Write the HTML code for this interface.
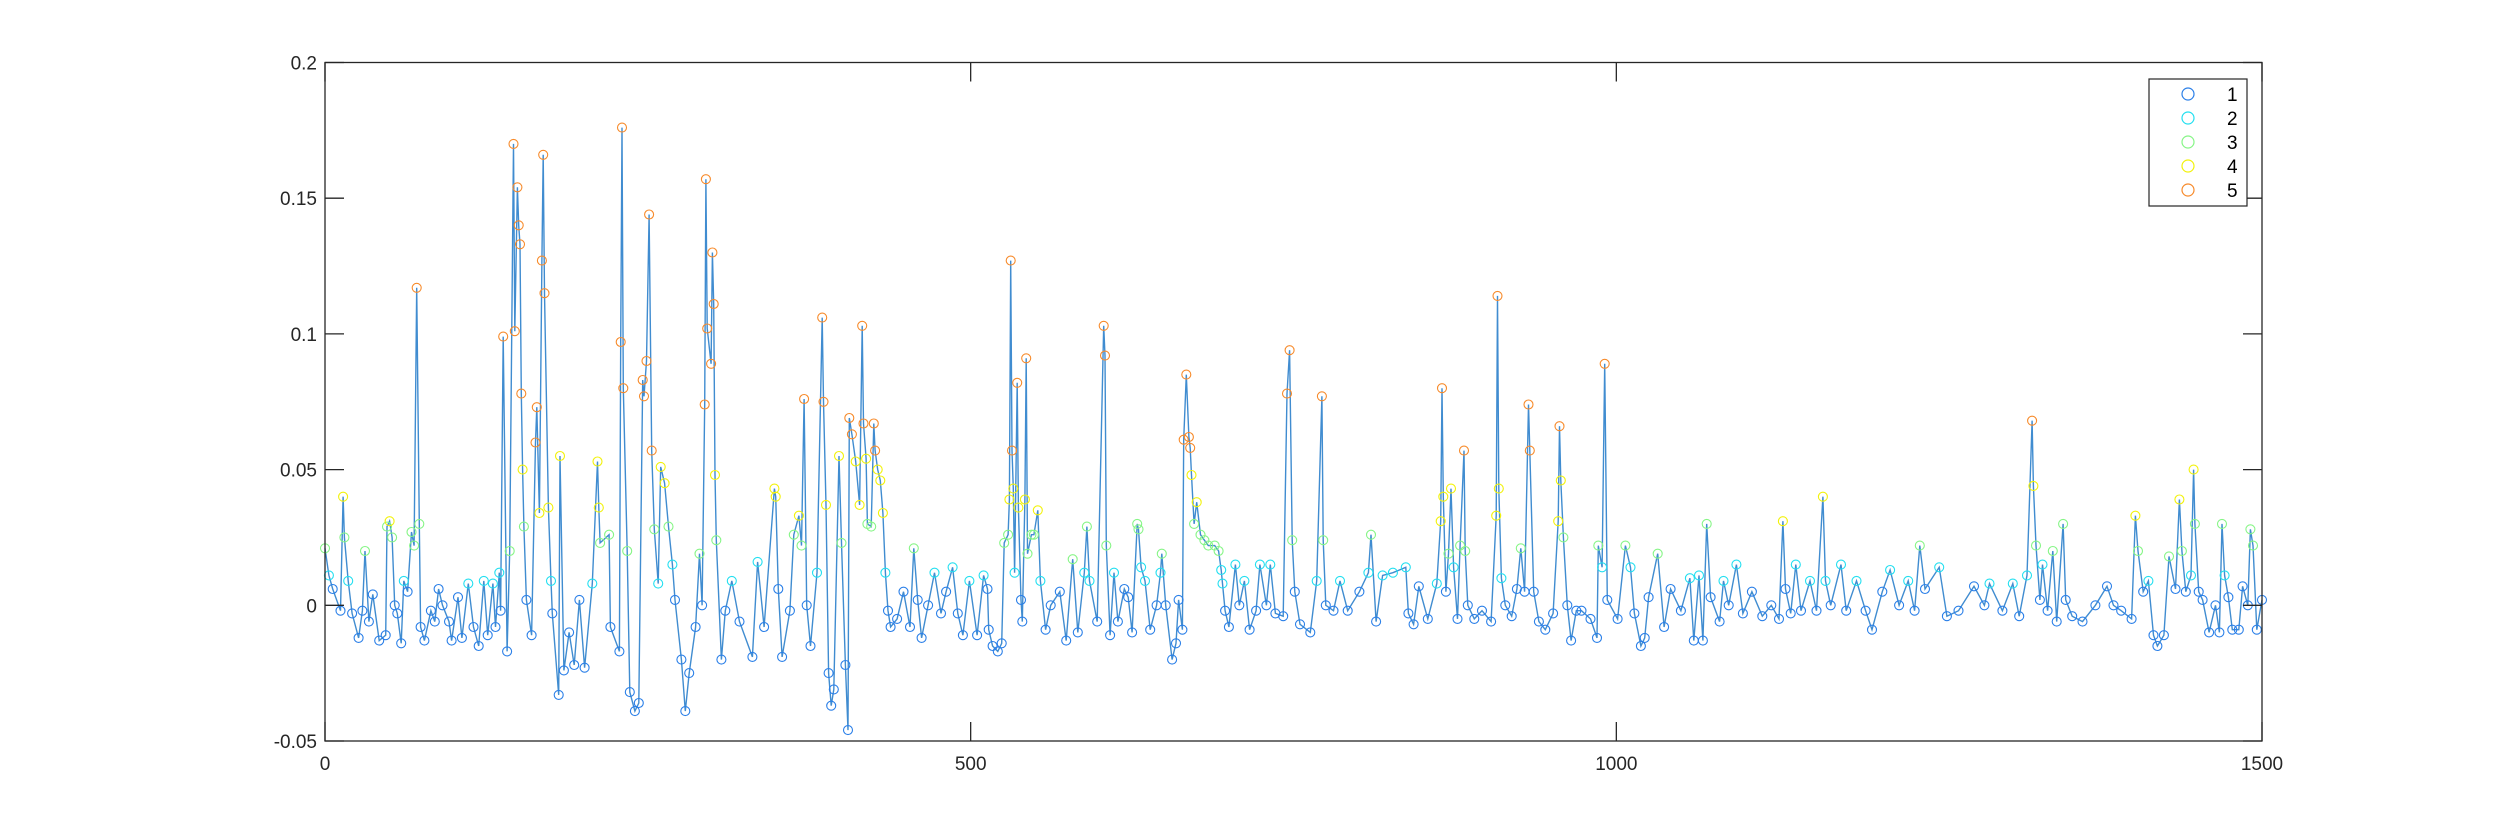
<!DOCTYPE html>
<html><head><meta charset="utf-8"><style>
html,body{margin:0;padding:0;background:#fff;}
svg{display:block;font-family:"Liberation Sans",Arial,sans-serif;}
</style></head><body>
<svg id="chart" width="2500" height="833" viewBox="0 0 2500 833" xmlns="http://www.w3.org/2000/svg">
<rect x="0" y="0" width="2500" height="833" fill="#fff"/>
<g id="plot"></g>
<g id="axes"></g>
<g id="legend"></g>
</svg>
<script>
const xTicks = [0, 500, 1000, 1500];
const yTicks = [-0.05, 0, 0.05, 0.1, 0.15, 0.2];
const yTickLabels = ["-0.05", "0", "0.05", "0.1", "0.15", "0.2"];
const seriesNames = ["1", "2", "3", "4", "5"];
// [sample index, value]
const samplesA = [[0,0.021],[3,0.011],[6,0.006],[12,-0.002],[14,0.04],[15,0.025],[18,0.009],[21,-0.003],[26,-0.012],[29,-0.002],[31,0.02],[34,-0.006],[37,0.004],[42,-0.013],[47,-0.011],[48,0.029],[50,0.031],[52,0.025],[54,0],[56,-0.003],[59,-0.014],[61,0.009],[64,0.005],[67,0.027],[69,0.022],[71,0.117],[73,0.03],[74,-0.008],[77,-0.013],[82,-0.002],[85,-0.006],[88,0.006],[91,0],[96,-0.006],[98,-0.013],[103,0.003],[106,-0.012],[111,0.008],[115,-0.008],[119,-0.015],[123,0.009],[126,-0.011],[130,0.008],[132,-0.008],[135,0.012],[136,-0.002],[138,0.099],[141,-0.017],[143,0.02],[146,0.17],[147,0.101],[149,0.154],[150,0.14],[151,0.133],[152,0.078],[153,0.05],[154,0.029],[156,0.002],[160,-0.011],[163,0.06],[164,0.073],[166,0.034],[168,0.127],[169,0.166],[170,0.115],[173,0.036],[175,0.009],[176,-0.003],[181,-0.033],[182,0.055],[185,-0.024],[189,-0.01],[193,-0.022],[197,0.002],[201,-0.023],[207,0.008],[211,0.053],[212,0.036],[213,0.023],[220,0.026],[221,-0.008],[228,-0.017],[229,0.097],[230,0.176],[231,0.08],[234,0.02],[236,-0.032],[240,-0.039],[243,-0.036],[246,0.083],[247,0.077],[249,0.09],[251,0.144],[253,0.057],[255,0.028],[258,0.008],[260,0.051],[263,0.045],[266,0.029],[269,0.015],[271,0.002],[276,-0.02],[279,-0.039],[282,-0.025],[287,-0.008],[290,0.019],[292,0],[294,0.074],[295,0.157],[296,0.102],[299,0.089],[300,0.13],[301,0.111],[302,0.048],[303,0.024],[307,-0.02],[310,-0.002],[315,0.009],[321,-0.006],[331,-0.019],[335,0.016],[340,-0.008],[348,0.043],[349,0.04],[351,0.006],[354,-0.019],[360,-0.002],[363,0.026],[367,0.033],[369,0.022],[371,0.076],[373,0],[376,-0.015],[381,0.012],[385,0.106],[386,0.075],[388,0.037],[390,-0.025],[392,-0.037],[394,-0.031],[398,0.055],[400,0.023],[403,-0.022],[405,-0.046],[406,0.069],[408,0.063],[411,0.053],[414,0.037],[416,0.103],[417,0.067],[419,0.054],[420,0.03],[423,0.029],[425,0.067],[426,0.057],[428,0.05],[430,0.046],[432,0.034],[434,0.012],[436,-0.002],[438,-0.008],[443,-0.005],[448,0.005],[453,-0.008],[456,0.021],[459,0.002],[462,-0.012],[467,0],[472,0.012],[477,-0.003],[481,0.005],[486,0.014],[490,-0.003],[494,-0.011],[499,0.009]];
const samplesB = [[505,-0.011],[510,0.011],[513,0.006],[514,-0.009],[517,-0.015],[521,-0.017],[524,-0.014],[526,0.023],[529,0.026],[530,0.039],[531,0.127],[532,0.057],[533,0.043],[534,0.012],[536,0.082],[537,0.036],[539,0.002],[540,-0.006],[542,0.039],[543,0.091],[544,0.019],[547,0.026],[549,0.026],[552,0.035],[554,0.009],[558,-0.009],[562,0],[569,0.005],[574,-0.013],[579,0.017],[583,-0.01],[588,0.012],[590,0.029],[592,0.009],[598,-0.006],[603,0.103],[604,0.092],[605,0.022],[608,-0.011],[611,0.012],[614,-0.006],[619,0.006],[622,0.003],[625,-0.01],[629,0.03],[630,0.028],[632,0.014],[635,0.009],[639,-0.009],[644,0],[647,0.012],[648,0.019],[651,0],[656,-0.02],[659,-0.014],[661,0.002],[664,-0.009],[665,0.061],[667,0.085],[669,0.062],[670,0.058],[671,0.048],[673,0.03],[675,0.038],[678,0.026],[681,0.024],[684,0.022],[689,0.022],[692,0.02],[694,0.013],[695,0.008],[697,-0.002],[700,-0.008],[705,0.015],[708,0],[712,0.009],[716,-0.009],[721,-0.002],[724,0.015],[729,0],[732,0.015],[736,-0.003],[742,-0.004],[745,0.078],[747,0.094],[749,0.024],[751,0.005],[755,-0.007],[763,-0.01],[768,0.009],[772,0.077],[773,0.024],[775,0],[781,-0.002],[786,0.009],[792,-0.002],[801,0.005],[808,0.012],[810,0.026],[814,-0.006],[819,0.011],[827,0.012],[837,0.014],[839,-0.003],[843,-0.007],[847,0.007],[854,-0.005],[861,0.008],[864,0.031],[865,0.08],[866,0.04],[868,0.005],[870,0.019],[872,0.043],[874,0.014],[877,-0.005],[879,0.022],[882,0.057],[883,0.02],[885,0],[890,-0.005],[896,-0.002],[903,-0.006],[907,0.033],[908,0.114],[909,0.043],[911,0.01],[914,0],[919,-0.004],[923,0.006],[926,0.021],[929,0.005],[932,0.074],[933,0.057],[936,0.005],[940,-0.006],[945,-0.009],[951,-0.003],[955,0.031],[956,0.066],[957,0.046],[959,0.025],[962,0],[965,-0.013],[969,-0.002],[973,-0.002],[980,-0.005],[985,-0.012],[986,0.022],[989,0.014],[991,0.089],[993,0.002]];
const samplesC = [[1001,-0.005],[1007,0.022],[1011,0.014],[1014,-0.003],[1019,-0.015],[1022,-0.012],[1025,0.003],[1032,0.019],[1037,-0.008],[1042,0.006],[1050,-0.002],[1057,0.01],[1060,-0.013],[1064,0.011],[1067,-0.013],[1070,0.03],[1073,0.003],[1080,-0.006],[1083,0.009],[1087,0],[1093,0.015],[1098,-0.003],[1105,0.005],[1113,-0.004],[1120,0],[1126,-0.005],[1129,0.031],[1131,0.006],[1135,-0.003],[1139,0.015],[1143,-0.002],[1150,0.009],[1155,-0.002],[1160,0.04],[1162,0.009],[1166,0],[1174,0.015],[1178,-0.002],[1186,0.009],[1193,-0.002],[1198,-0.009],[1206,0.005],[1212,0.013],[1219,0],[1226,0.009],[1231,-0.002],[1235,0.022],[1239,0.006],[1250,0.014],[1256,-0.004],[1265,-0.002],[1277,0.007],[1285,0],[1289,0.008],[1299,-0.002],[1307,0.008],[1312,-0.004],[1318,0.011],[1322,0.068],[1323,0.044],[1325,0.022],[1328,0.002],[1330,0.015],[1334,-0.002],[1338,0.02],[1341,-0.006],[1346,0.03],[1348,0.002],[1353,-0.004],[1361,-0.006],[1371,0],[1380,0.007],[1385,0],[1391,-0.002],[1399,-0.005],[1402,0.033],[1404,0.02],[1408,0.005],[1412,0.009],[1416,-0.011],[1419,-0.015],[1424,-0.011],[1428,0.018],[1433,0.006],[1436,0.039],[1438,0.02],[1441,0.005],[1445,0.011],[1447,0.05],[1448,0.03],[1451,0.005],[1454,0.002],[1459,-0.01],[1464,0],[1467,-0.01],[1469,0.03],[1471,0.011],[1474,0.003],[1477,-0.009],[1482,-0.009],[1485,0.007],[1489,0],[1491,0.028],[1493,0.022],[1496,-0.009],[1500,0.002]];

const NS = "http://www.w3.org/2000/svg";
const L = 325, R = 2262, T = 62.5, B = 741;
const xMin = 0, xMax = 1500, yMin = -0.05, yMax = 0.2;
function xScale(v){ return L + (v - xMin) / (xMax - xMin) * (R - L); }
function yScale(v){ return B - (v - yMin) / (yMax - yMin) * (B - T); }
const colors = ["#2a7fe8", "#22dff0", "#86f586", "#f2f20a", "#f78a2a"];
function clusterOf(v){ return v > 0.055 ? 4 : v > 0.03 ? 3 : v > 0.016 ? 2 : v > 0.007 ? 1 : 0; }
function mk(tag, attrs, parent){ const e = document.createElementNS(NS, tag); for (const k in attrs) e.setAttribute(k, attrs[k]); parent.appendChild(e); return e; }

const samples = samplesA.concat(samplesB, samplesC);
const plot = document.getElementById('plot');
let d = '';
samples.forEach(function(p, i){ d += (i ? 'L' : 'M') + xScale(p[0]).toFixed(1) + ' ' + yScale(p[1]).toFixed(1); });
const line = mk('path', {d: d, fill: 'none', stroke: '#1f78c8', 'stroke-width': 1.4, 'stroke-opacity': 0.85}, plot);


samples.forEach(function(p){
  const c = clusterOf(p[1]);
  const m = mk('circle', {cx: xScale(p[0]).toFixed(1), cy: yScale(p[1]).toFixed(1), r: 4.5, fill: 'none', stroke: colors[c], 'stroke-width': 1.1}, plot);
  
  
});

const axes = document.getElementById('axes');
const box = mk('rect', {x: L, y: T, width: R - L, height: B - T, fill: 'none', stroke: '#262626', 'stroke-width': 1.3}, axes);


xTicks.forEach(function(t){
  const x = xScale(t);
  mk('line', {x1: x, y1: B, x2: x, y2: B - 19, stroke: '#262626', 'stroke-width': 1.3}, axes);
  mk('line', {x1: x, y1: T, x2: x, y2: T + 19, stroke: '#262626', 'stroke-width': 1.3}, axes);
  const tx = mk('text', {x: x, y: B + 29, 'text-anchor': 'middle', 'font-size': 19, fill: '#262626'}, axes);
  tx.textContent = String(t);
  
  
});
yTicks.forEach(function(t, i){
  const y = yScale(t);
  mk('line', {x1: L, y1: y, x2: L + 19, y2: y, stroke: '#262626', 'stroke-width': 1.3}, axes);
  mk('line', {x1: R, y1: y, x2: R - 19, y2: y, stroke: '#262626', 'stroke-width': 1.3}, axes);
  const tx = mk('text', {x: L - 8, y: y + 7, 'text-anchor': 'end', 'font-size': 19, fill: '#262626'}, axes);
  tx.textContent = yTickLabels[i];
  
  
});

const legend = document.getElementById('legend');
const lb = mk('rect', {x: 2149, y: 79, width: 98, height: 127, fill: '#fff', stroke: '#262626', 'stroke-width': 1.2}, legend);


seriesNames.forEach(function(n, i){
  const y = 94 + i * 24;
  const g = mk('g', {}, legend);
  
  
  mk('circle', {cx: 2188, cy: y, r: 6, fill: 'none', stroke: colors[i], 'stroke-width': 1.2}, g);
  const tx = mk('text', {x: 2227, y: y + 7, 'font-size': 19, fill: '#000'}, g);
  tx.textContent = n;
});
</script>
</body></html>
